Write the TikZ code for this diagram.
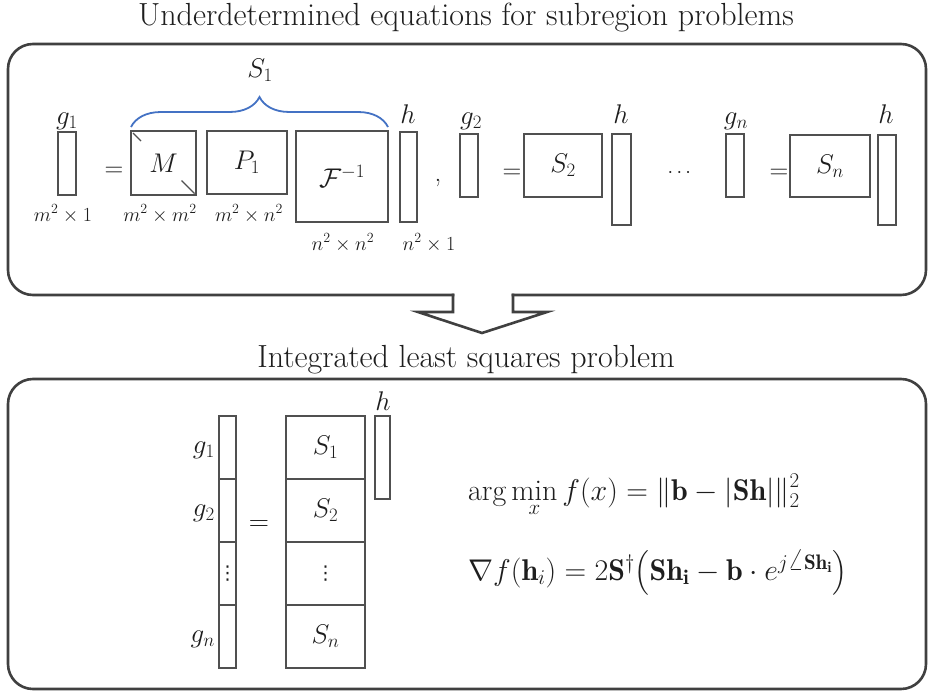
\RequirePackage{fix-cm}
\documentclass[tikz,border=0pt]{standalone}
\usepackage{amsmath}
\usepackage{fontspec}
\newfontfamily\djv{DejaVu Sans}
\usetikzlibrary{decorations.pathreplacing,calc}
\definecolor{boxline}{HTML}{404040}
\definecolor{matline}{HTML}{505050}
\definecolor{bracecol}{HTML}{4472C4}
\definecolor{ink}{HTML}{1E1E1E}
\newcommand{\setfs}[1]{\fontsize{#1}{#1}\selectfont}
\newcommand{\myvdots}{{\djv ⋮}}
\tikzset{
  frame/.style={draw=boxline, line width=2.6pt, rounded corners=25pt, line cap=rect},
  framesharp/.style={draw=boxline, line width=2.6pt, line cap=rect, line join=miter},
  mat/.style={draw=matline, line width=1.6pt, inner sep=0pt, outer sep=0pt, anchor=north west, text=ink, font=\setfs{27}},
  tick/.style={draw=matline, line width=1.3pt},
  lbl/.style={text=ink, inner sep=0pt, font=\setfs{27}},
  vd/.style={text=ink, inner sep=0pt, font=\setfs{19}},
  dim/.style={text=ink, inner sep=0pt, font=\setfs{20}, anchor=base},
  title/.style={text=ink, inner sep=0pt, font=\setfs{32}, anchor=base},
  eqn/.style={text=ink, inner sep=0pt, font=\setfs{30}, anchor=base west},
  bracest/.style={draw=bracecol, line width=1.8pt, decorate, decoration={brace, amplitude=30pt}}
}
\begin{document}
\begin{tikzpicture}[x=1pt,y=-1pt]
\useasboundingbox (0,0) rectangle (928,693);
\fill[white] (0,0) rectangle (928,693);

% titles
\node[title] (t1) at (466,26) {Underdetermined equations for subregion problems};
\node[title] (t2) at (466,367) {Integrated least squares problem};

% top frame with arrow notch
\draw[frame] (453,295) -- (8,295) -- (8,44) -- (926,44) -- (926,295) -- (513,295);
\draw[framesharp] (453,295) -- (453,312) -- (418,312) -- (482,333) -- (547,312) -- (513,312) -- (513,295);

% bottom frame
\draw[frame] (8,689) -- (8,379) -- (926,379) -- (926,689) -- cycle;

% ---- top row ----
\node[mat, minimum width=18pt, minimum height=63pt] (g1) at (58,132) {};
\node[lbl, anchor=south] (g1l) at (67,130) {$g_1$};
\node[dim] (d1) at (63,221) {$m^2\times 1$};
\node[lbl, font=\setfs{26}] (eq1) at (114,172) {$=$};

\node[mat, minimum width=65pt, minimum height=64pt] (M) at (131,131) {$M$};
\draw[tick] ($(M.north west)+(2,2)$) -- ++(8,8);
\draw[tick] ($(M.south east)+(-1.5,-1.5)$) -- ++(-13,-13);
\node[dim] (d2) at (160,221) {$m^2\times m^2$};

\node[mat, minimum width=80pt, minimum height=63pt] (P1) at (207,131) {$P_1$};
\node[dim] (d3) at (249,221) {$m^2\times n^2$};

\node[mat, minimum width=92pt, minimum height=91pt] (F) at (296,131) {$\mathcal{F}^{-1}$};
\node[dim] (d4) at (343,250) {$n^2\times n^2$};

\node[mat, minimum width=17pt, minimum height=90pt] (h1) at (400,132) {};
\node[lbl, anchor=south] (h1l) at (408,124) {$h$};
\node[dim] (d5) at (429,250) {$n^2\times 1$};

\draw[bracest] ($(M.north west)+(0,-4)$) -- ($(F.north east)+(0,-4)$);
\node[lbl, anchor=south] (S1l) at (260,82) {$S_1$};

\node[lbl, anchor=base] (comma) at (438,181) {,};

\node[mat, minimum width=18pt, minimum height=63pt] (g2) at (460,134) {};
\node[lbl, anchor=south] (g2l) at (471,130) {$g_2$};
\node[lbl, font=\setfs{26}] (eq2) at (512,174) {$=$};
\node[mat, minimum width=78pt, minimum height=63pt] (S2) at (524,134) {$S_2$};
\node[mat, minimum width=19pt, minimum height=91pt] (h2) at (612,134) {};
\node[lbl, anchor=south] (h2l) at (621,124) {$h$};

\node[lbl, font=\setfs{20}] (dots) at (681,173) {$\cdots$};

\node[mat, minimum width=18pt, minimum height=63pt] (gn) at (726,134) {};
\node[lbl, anchor=south] (gnl) at (736,130) {$g_n$};
\node[lbl, font=\setfs{26}] (eq3) at (779,174) {$=$};
\node[mat, minimum width=80pt, minimum height=62pt] (Sn) at (790,135) {$S_n$};
\node[mat, minimum width=18pt, minimum height=90pt] (h3) at (878,135) {};
\node[lbl, anchor=south] (h3l) at (886,124) {$h$};

% ---- bottom ----
\node[mat, minimum width=17pt, minimum height=63pt] (G1) at (219,416) {};
\node[mat, minimum width=17pt, minimum height=63pt] (G2) at (219,479) {};
\node[mat, minimum width=17pt, minimum height=63pt] (G3) at (219,542) {};
\node[vd] (G3d) at (G3.center) {\myvdots};
\node[mat, minimum width=17pt, minimum height=63pt] (G4) at (219,605) {};
\node[lbl, anchor=east] (G1l) at ($(G1.west)+(-4,3)$) {$g_1$};
\node[lbl, anchor=east] (G2l) at ($(G2.west)+(-4,3)$) {$g_2$};
\node[lbl, anchor=east] (G4l) at ($(G4.west)+(-4,3)$) {$g_n$};

\node[lbl, font=\setfs{28}] (beq) at (259,526) {$=$};

\node[mat, minimum width=79pt, minimum height=63pt] (B1) at (286,416) {$S_1$};
\node[mat, minimum width=79pt, minimum height=63pt] (B2) at (286,479) {$S_2$};
\node[mat, minimum width=79pt, minimum height=63pt] (B3) at (286,542) {};
\node[vd] (B3d) at (B3.center) {\myvdots};
\node[mat, minimum width=79pt, minimum height=63pt] (B4) at (286,605) {$S_n$};

\node[mat, minimum width=15pt, minimum height=83pt] (HB) at (375,416) {};
\node[lbl, anchor=south] (HBl) at (383,411) {$h$};

\node[eqn] (e1) at (468,500) {$\displaystyle \arg\min_x f(x) = \|\mathbf{b} - |\mathbf{Sh}|\|_2^2$};
\node[eqn] (e2) at (468,580) {$\nabla f(\mathbf{h}_i) = 2\mathbf{S}^{\dagger}\bigl(\mathbf{Sh}_{\mathbf{i}} - \mathbf{b}\cdot e^{j\angle\mathbf{Sh}_{\mathbf{i}}}\bigr)$};
\end{tikzpicture}
\end{document}
